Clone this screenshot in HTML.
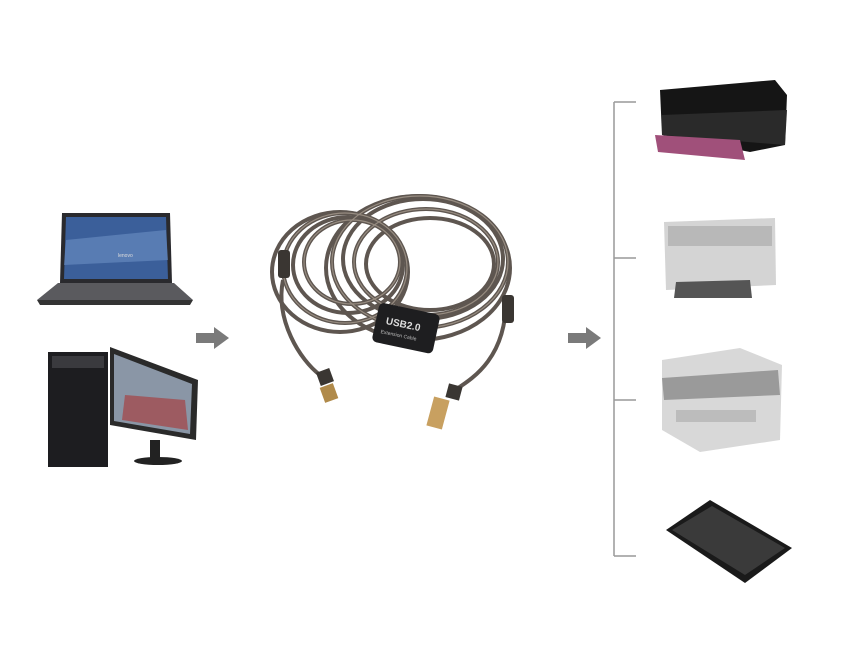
<!DOCTYPE html>
<html><head><style>html,body{margin:0;padding:0;background:#fff}svg{display:block}</style></head>
<body>
<svg width="852" height="654" viewBox="0 0 852 654" xmlns="http://www.w3.org/2000/svg" font-family="Liberation Sans, sans-serif">
<rect width="852" height="654" fill="#fff"/>
<!-- laptop -->
<polygon points="62,213 170,213 172,283 60,283" fill="#2a2a2e"/>
<polygon points="66,217 166,217 168,279 64,279" fill="#3b5f9a"/>
<polygon points="66,240 166,230 168,260 64,265" fill="#6d8fc4" opacity="0.6"/>
<text x="118" y="257" font-size="5" fill="#ddd">lenovo</text>
<polygon points="58,283 174,283 193,300 37,300" fill="#5a5a5e"/>
<polygon points="37,300 193,300 190,305 40,305" fill="#333"/>
<!-- desktop -->
<rect x="48" y="352" width="60" height="115" fill="#1d1d20"/>
<rect x="52" y="356" width="52" height="12" fill="#3a3a3e"/>
<polygon points="110,347 198,380 196,440 110,425" fill="#2a2a2a"/>
<polygon points="114,354 192,384 190,434 114,421" fill="#8a96a6"/>
<polygon points="125,395 185,400 188,430 122,420" fill="#a33" opacity="0.6"/>
<rect x="150" y="440" width="10" height="18" fill="#222"/>
<ellipse cx="158" cy="461" rx="24" ry="4" fill="#222"/>
<!-- arrows -->
<polygon points="196,333 214,333 214,327 229,338 214,349 214,343 196,343" fill="#7a7a7a"/>
<polygon points="568,333 586,333 586,327 601,338 586,349 586,343 568,343" fill="#7a7a7a"/>
<!-- cable -->
<g fill="none" stroke="#5e5650" stroke-width="4">
<ellipse cx="345" cy="268" rx="62" ry="55"/>
<ellipse cx="348" cy="265" rx="55" ry="48"/>
<ellipse cx="352" cy="262" rx="48" ry="42"/>
<ellipse cx="340" cy="272" rx="68" ry="60"/>
<ellipse cx="420" cy="262" rx="88" ry="66"/>
<ellipse cx="423" cy="259" rx="80" ry="60"/>
<ellipse cx="426" cy="262" rx="72" ry="53"/>
<ellipse cx="430" cy="264" rx="64" ry="46"/>
<ellipse cx="418" cy="268" rx="92" ry="72"/>
<path d="M283,280 C275,320 300,360 320,375" stroke-width="4"/>
<path d="M506,300 C506,360 470,380 455,390" stroke-width="4"/>
</g>
<g fill="none" stroke="#b0a496" stroke-width="1.2" opacity="0.7">
<ellipse cx="345" cy="268" rx="62" ry="55"/>
<ellipse cx="352" cy="262" rx="48" ry="42"/>
<ellipse cx="420" cy="262" rx="88" ry="66"/>
<ellipse cx="426" cy="262" rx="72" ry="53"/>
</g>
<rect x="278" y="250" width="12" height="28" rx="3" fill="#3a3632"/>
<rect x="502" y="295" width="12" height="28" rx="3" fill="#3a3632"/>
<g transform="rotate(12 405 328)">
<rect x="375" y="308" width="62" height="40" rx="5" fill="#1e1e20"/>
<text x="385" y="328" font-size="10" font-weight="bold" fill="#ddd">USB2.0</text>
<text x="382" y="338" font-size="5" fill="#bbb">Extension Cable</text>
</g>
<rect x="318" y="370" width="14" height="14" fill="#3a3632" transform="rotate(-20 325 377)"/>
<rect x="322" y="385" width="14" height="16" fill="#b08a4a" transform="rotate(-20 329 393)"/>
<rect x="447" y="385" width="14" height="14" fill="#3a3632" transform="rotate(15 454 392)"/>
<rect x="430" y="398" width="16" height="30" fill="#c8a060" transform="rotate(15 438 413)"/>
<!-- bracket -->
<g stroke="#999" stroke-width="1.5">
<line x1="614" y1="102" x2="614" y2="556"/>
<line x1="614" y1="102" x2="636" y2="102"/>
<line x1="614" y1="258" x2="636" y2="258"/>
<line x1="614" y1="400" x2="636" y2="400"/>
<line x1="614" y1="556" x2="636" y2="556"/>
</g>
<!-- printer1 -->
<polygon points="660,90 775,80 787,95 785,145 750,152 662,135" fill="#151515"/>
<polygon points="662,115 787,110 785,145 662,135" fill="#2a2a2a"/>
<polygon points="655,135 740,140 745,160 658,152" fill="#a0507a"/>
<!-- printer2 -->
<polygon points="664,222 775,218 776,285 666,290" fill="#d4d4d4"/>
<rect x="668" y="226" width="104" height="20" fill="#b8b8b8"/>
<polygon points="676,282 750,280 752,298 674,298" fill="#555"/>
<!-- printer3 -->
<polygon points="662,360 740,348 782,365 780,440 700,452 662,430" fill="#d8d8d8"/>
<polygon points="662,378 778,370 780,395 664,400" fill="#9a9a9a"/>
<rect x="676" y="410" width="80" height="12" fill="#bcbcbc"/>
<!-- scanner -->
<polygon points="666,530 710,500 792,548 745,583" fill="#1a1a1a"/>
<polygon points="672,530 712,506 785,548 745,575" fill="#3a3a3a"/>
</svg>
</body></html>
